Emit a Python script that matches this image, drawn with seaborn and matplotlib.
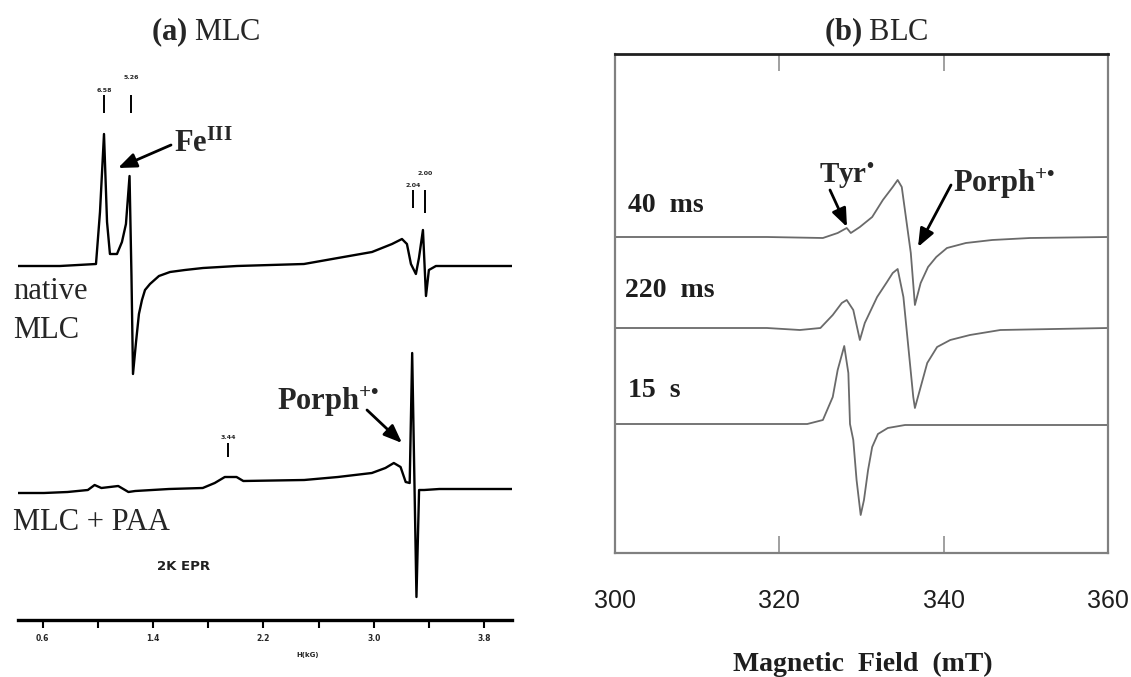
import numpy as np
import pandas as pd
import matplotlib
matplotlib.use("Agg")
import matplotlib.pyplot as plt
import seaborn as sns

# =========================
# DATA - panel (a) MLC, 2K EPR, field in kG
# =========================

field_native = [0.420, 0.726, 0.987, 1.016, 1.045, 1.067, 1.088, 1.139, 1.175, 1.204,
                1.230, 1.244, 1.255, 1.277, 1.298, 1.320, 1.342, 1.378, 1.443, 1.523,
                1.631, 1.762, 2.008, 2.493, 2.739, 2.986, 3.131, 3.203, 3.239, 3.268,
                3.304, 3.326, 3.355, 3.377, 3.398, 3.449, 3.696, 4.000]
signal_native = [0, 0, 2, 54, 132, 44, 12, 12, 24, 42,
                 90, -10, -108, -76, -48, -34, -24, -18, -10, -6,
                 -4, -2, 0, 2, 8, 14, 22, 27, 22, 2,
                 -8, 8, 36, -30, -4, 0, 0, 0]

field_paa = [0.420, 0.610, 0.781, 0.928, 0.977, 1.026, 1.148, 1.222, 1.271, 1.516,
             1.760, 1.847, 1.920, 2.005, 2.054, 2.495, 2.739, 2.985, 3.083, 3.144,
             3.193, 3.230, 3.259, 3.277, 3.308, 3.327, 3.364, 3.474, 4.000]
signal_paa = [-2, -2, -1, 1, 6, 3, 5, -1, 0, 2,
              3, 8, 14, 14, 10, 11, 14, 18, 23, 28,
              24, 9, 8, 138, -106, 1, 1, 2, 2]

# g-value markers drawn on the spectra
g_mark_field = [1.045, 1.240, 3.282, 3.369, 1.943]
g_mark_label = ["6.58", "5.26", "2.04", "2.00", "3.44"]
g_mark_low = [507, 507, 412, 407, 163]
g_mark_high = [525, 525, 430, 430, 177]
g_label_y = [527, 540, 432, 444, 180]

a_tick_field = [0.6, 1.0, 1.4, 1.8, 2.2, 2.6, 3.0, 3.4, 3.8]
a_tick_label = ["0.6", "", "1.4", "", "2.2", "", "3.0", "", "3.8"]

# =========================
# DATA - panel (b) BLC, field in mT
# =========================

field_40ms = [300, 318.5, 325.3, 327.1, 328.2, 328.7, 329.8, 331.3, 332.6, 333.8,
              334.4, 334.9, 335.4, 336.0, 336.5, 337.2, 338.1, 339.1, 340.4, 342.7,
              345.9, 350.5, 360]
signal_40ms = [0, 0, -1, 4, 9, 4, 10, 20, 37, 50,
               57, 50, 20, -16, -68, -46, -30, -20, -11, -6,
               -3, -1, 0]

field_220ms = [300, 318.5, 322.5, 325.0, 326.5, 327.6, 328.2, 329.0, 329.8, 330.4,
               331.9, 333.1, 333.8, 334.4, 335.1, 335.7, 336.3, 336.5, 337.1, 338.0,
               339.2, 340.8, 343.2, 346.9, 360]
signal_220ms = [0, 0, -2, 0, 13, 25, 28, 18, -12, 5,
                31, 46, 55, 59, 31, -19, -69, -80, -62, -35,
                -19, -12, -7, -2, 0]

field_15s = [300, 323.4, 325.3, 326.5, 327.1, 327.9, 328.4, 328.6, 329.0, 329.4,
             329.9, 330.3, 330.8, 331.3, 332.0, 333.2, 335.3, 360]
signal_15s = [0, 0, 4, 27, 54, 78, 51, 0, -16, -56,
              -91, -76, -46, -23, -10, -4, -1, -1]

b_ticks = [300, 320, 340, 360]

# =========================
# STYLE
# =========================

sns.set_style("white")
plt.rcParams["font.family"] = ["Liberation Serif", "DejaVu Serif"]
plt.rcParams["mathtext.fontset"] = "custom"
plt.rcParams["mathtext.rm"] = "Liberation Serif"
plt.rcParams["mathtext.bf"] = "Liberation Serif:bold"
plt.rcParams["mathtext.it"] = "Liberation Serif:italic"

W, H = 1131, 677


def fx(x):
    return x / W


def fy(y):
    return 1 - y / H


fig = plt.figure(figsize=(W / 100, H / 100), dpi=100)
ax_a = fig.add_axes([fx(17.7), fy(620), (512 - 17.7) / W, (620 - 40) / H])
ax_b = fig.add_axes([fx(615), fy(553), (1108 - 615) / W, (553 - 54) / H])

# =========================
# PANEL (a)
# =========================

df_a = pd.concat([
    pd.DataFrame({"field": field_native,
                  "signal": np.array(signal_native) + 354,
                  "trace": "native"}),
    pd.DataFrame({"field": field_paa,
                  "signal": np.array(signal_paa) + 129,
                  "trace": "paa"}),
])

sns.lineplot(data=df_a, x="field", y="signal", hue="trace",
             palette={"native": "black", "paa": "black"},
             estimator=None, sort=False, linewidth=1.7,
             legend=False, ax=ax_a)

ax_a.vlines(g_mark_field, g_mark_low, g_mark_high, color="black", lw=1.4)
for xg, lab, yl in zip(g_mark_field, g_mark_label, g_label_y):
    ax_a.text(xg, yl, lab, ha="center", va="bottom", fontsize=4.5,
              family="DejaVu Sans", weight="bold")

ax_a.set_xlim(0.42, 4.0)
ax_a.set_ylim(0, 580)
ax_a.set_xticks(a_tick_field)
ax_a.set_xticklabels(a_tick_label, fontsize=5.5, family="DejaVu Sans",
                     weight="bold")
ax_a.set_yticks([])
ax_a.set_xlabel("")
ax_a.set_ylabel("")
for side in ["top", "left", "right"]:
    ax_a.spines[side].set_visible(False)
ax_a.spines["bottom"].set_linewidth(2.4)
ax_a.spines["bottom"].set_color("black")
ax_a.tick_params(axis="x", direction="out", length=6, width=1.5,
                 color="black", pad=4, bottom=True)
ax_a.patch.set_alpha(0)

# =========================
# PANEL (b)
# =========================

df_b = pd.concat([
    pd.DataFrame({"field": field_40ms, "signal": np.array(signal_40ms) + 316,
                  "trace": "40 ms"}),
    pd.DataFrame({"field": field_220ms, "signal": np.array(signal_220ms) + 225,
                  "trace": "220 ms"}),
    pd.DataFrame({"field": field_15s, "signal": np.array(signal_15s) + 129,
                  "trace": "15 s"}),
])

sns.lineplot(data=df_b, x="field", y="signal", hue="trace",
             palette={"40 ms": "#6a6a6a", "220 ms": "#6a6a6a", "15 s": "#6a6a6a"},
             estimator=None, sort=False, linewidth=1.3,
             legend=False, ax=ax_b)

ax_b.set_xlim(300, 360)
ax_b.set_ylim(0, 499)
ax_b.set_xticks(b_ticks)
ax_b.set_xticklabels([str(t) for t in b_ticks], fontsize=18,
                     family="Liberation Sans")
ax_b.set_yticks([])
ax_b.set_xlabel("")
ax_b.set_ylabel("")
for side in ["left", "right", "bottom"]:
    ax_b.spines[side].set_color("#808080")
    ax_b.spines[side].set_linewidth(1.6)
ax_b.spines["top"].set_color("#202020")
ax_b.spines["top"].set_linewidth(2.0)
ax_b.tick_params(axis="x", direction="in", length=12, width=1.2,
                 color="#909090", top=True, bottom=True, pad=26,
                 labelcolor="#1e1e1e")

# =========================
# TEXT & ARROWS
# =========================

arrow = dict(arrowstyle="-|>,head_length=0.55,head_width=0.22",
             color="black", lw=2, shrinkA=0, shrinkB=0, mutation_scale=20)


def fig_arrow(x0, y0, x1, y1):
    fig.add_artist(matplotlib.patches.FancyArrowPatch(
        (fx(x0), fy(y0)), (fx(x1), fy(y1)),
        transform=fig.transFigure, **arrow))


porph = "$\\mathbf{Porph}^{\\mathbf{+\u2022}}$"
tyr = "$\\mathbf{Tyr}^{\\mathbf{\u2022}}$"

fig.text(fx(206), fy(40), r"$\mathbf{(a)}$ MLC", ha="center", va="baseline",
         fontsize=22)
fig.text(fx(876), fy(40), r"$\mathbf{(b)}$ BLC", ha="center", va="baseline",
         fontsize=22)

fig.text(fx(174), fy(152), r"$\mathbf{Fe}^{\mathbf{III}}$", ha="left",
         va="baseline", fontsize=22)
fig_arrow(171, 145, 118, 168)

fig.text(fx(13), fy(299), "native", ha="left", va="baseline", fontsize=22)
fig.text(fx(13), fy(338), "MLC", ha="left", va="baseline", fontsize=22)
fig.text(fx(13), fy(530), "MLC + PAA", ha="left", va="baseline", fontsize=22)

fig.text(fx(277), fy(410), porph, ha="left", va="baseline", fontsize=22)
fig_arrow(367, 410, 402, 443)

fig.text(fx(184), fy(567), "2K EPR", ha="center", va="center", fontsize=9.5,
         family="DejaVu Sans", weight="bold", color="#202020")
fig.text(fx(308), fy(655), "H(kG)", ha="center", va="center", fontsize=5,
         family="DejaVu Sans", weight="bold")

fig.text(fx(628), fy(212), "40  ms", ha="left", va="baseline", fontsize=20,
         weight="bold", color="#1e1e1e")
fig.text(fx(625), fy(297), "220  ms", ha="left", va="baseline", fontsize=20,
         weight="bold", color="#1e1e1e")
fig.text(fx(628), fy(397), "15  s", ha="left", va="baseline", fontsize=20,
         weight="bold", color="#1e1e1e")

fig.text(fx(819), fy(183), tyr, ha="left", va="baseline", fontsize=21)
fig_arrow(830, 190, 847, 227)

fig.text(fx(953), fy(192), porph, ha="left", va="baseline", fontsize=22)
fig_arrow(951, 185, 918, 247)

fig.text(fx(863), fy(671), "Magnetic  Field  (mT)", ha="center",
         va="baseline", fontsize=20, weight="bold", color="#1e1e1e")

fig.savefig("out.png", dpi=100)
